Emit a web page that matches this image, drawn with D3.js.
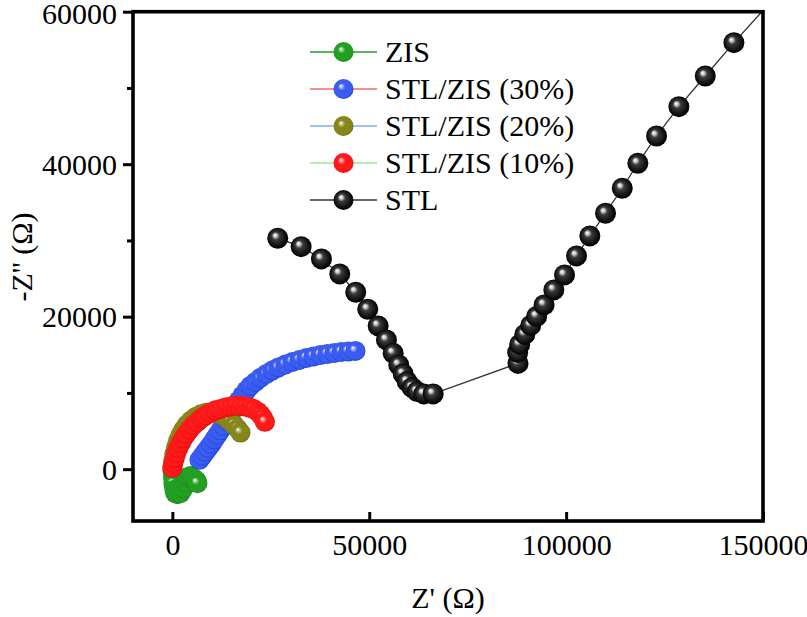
<!DOCTYPE html>
<html>
<head>
<meta charset="utf-8">
<script src="https://cdn.jsdelivr.net/npm/d3@7"></script>
<style>
  html, body { margin: 0; padding: 0; background: #fff; }
  svg { display: block; }
  text { font-family: "Liberation Serif", "Times New Roman", serif; fill: #000; }
</style>
</head>
<body>
<svg id="chart" width="807" height="617"></svg>
<script>
// ---------- data ----------
const seriesNames = ["ZIS", "STL/ZIS (30%)", "STL/ZIS (20%)", "STL/ZIS (10%)", "STL"];
const markerColors = ["#22a022", "#3a5cf0", "#86861a", "#ff1a1a", "#151515"];
const lineColors = ["#22a022", "#ec6e6e", "#84aaf0", "#90ec90", "#333333"];

const xTicks = [0, 50000, 100000, 150000];
const yTicks = [0, 20000, 40000, 60000];
const yMinorTicks = [10000, 30000, 50000];

const zisX = [0, 127, 254, 508, 762, 1270, 2032, 2795, 3303, 3811, 4573, 5335, 6098, 6352];
const zisY = [-130, -1000, -1900, -2700, -3150, -3280, -3150, -2520, -1700, -1050, -900, -1180, -1500, -1840];

const stl30X = [6860, 7622, 8384, 9146, 9909, 10671, 11433, 12195, 12957, 13720, 14482, 15244, 16006, 16896, 17785, 18801, 19817, 21088, 22358, 23883, 25407, 26932, 28710, 30489, 32267, 34046, 35824, 37602, 39381, 41159, 42938, 44716, 46495];
const stl30Y = [1219, 1744, 2268, 2793, 3317, 3907, 4498, 5087, 5677, 6333, 6989, 7644, 8300, 9021, 9677, 10332, 10922, 11447, 11971, 12496, 12955, 13348, 13741, 14069, 14332, 14594, 14790, 14987, 15118, 15249, 15380, 15446, 15512];

const stl20X = [0, 200, 500, 900, 1400, 2000, 2750, 3650, 4700, 5900, 7200, 8500, 9800, 11100, 12400, 13600, 14700, 15700, 16600, 17300];
const stl20Y = [302, 1150, 2000, 2850, 3680, 4450, 5170, 5820, 6380, 6850, 7200, 7400, 7450, 7350, 7100, 6750, 6300, 5800, 5300, 4800];

const stl10X = [0, 254, 635, 1016, 1524, 2160, 2795, 3557, 4446, 5335, 6352, 7368, 8511, 9655, 10925, 12195, 13466, 14736, 16006, 17277, 18420, 19563, 20580, 21596, 22358, 22994, 23502];
const stl10Y = [170, 826, 1482, 2137, 2793, 3449, 4039, 4629, 5219, 5743, 6202, 6661, 7054, 7382, 7710, 7906, 8103, 8234, 8300, 8300, 8234, 8103, 7906, 7578, 7185, 6726, 6202];

const stlX = [26754, 32699, 37856, 42506, 46571, 49620, 52262, 54371, 56074, 57496, 58614, 59630, 60901, 62171, 63848, 66236,
  87783, 87700, 88200, 89500, 91000, 92500, 94400, 96877, 99595, 102644, 106023, 110012, 114255, 118219, 122970, 128636, 135343, 142610, 157000];
const stlY = [30289, 29187, 27574, 25608, 23208, 20979, 18790, 16954, 15210, 13676, 12496, 11486, 10699, 10175, 9873, 9873,
  13872, 15312, 16361, 17672, 18852, 20032, 21543, 23510, 25476, 27968, 30590, 33567, 36845, 40123, 43703, 47544, 51570, 55937, 64160];

const seriesX = [zisX, stl30X, stl20X, stl10X, stlX];
const seriesY = [zisY, stl30Y, stl20Y, stl10Y, stlY];

// ---------- layout ----------
const svg = d3.select("#chart");
const L = 133, R = 763, T = 11.7, B = 521;
const x = d3.scaleLinear().domain([-10000, 150000]).range([L, R]);
const y = d3.scaleLinear().domain([-6800, 60000]).range([B, T]);

// gradients
const defs = svg.append("defs");
function shade(c, k) { const h = d3.hsl(c); h.l = Math.max(0, Math.min(1, h.l * k)); return h.toString(); }
markerColors.forEach((c, i) => {
  const g = defs.append("radialGradient").attr("id", "sph" + i)
    .attr("cx", "50%").attr("cy", "50%").attr("r", "55%")
    .attr("fx", "36%").attr("fy", "34%");
  const isBlack = i === 4;
  g.append("stop").attr("offset", "0%").attr("stop-color", "#ffffff");
  g.append("stop").attr("offset", "14%").attr("stop-color", isBlack ? "#d0d0d0" : d3.interpolateRgb(c, "#fff")(0.55));
  g.append("stop").attr("offset", "34%").attr("stop-color", isBlack ? "#3a3a3a" : c);
  g.append("stop").attr("offset", "80%").attr("stop-color", isBlack ? "#0a0a0a" : c);
  g.append("stop").attr("offset", "100%").attr("stop-color", isBlack ? "#000" : shade(c, 0.75));
});
defs.append("clipPath").attr("id", "plotClip").append("rect")
  .attr("x", L).attr("y", T).attr("width", R - L).attr("height", B - T);

// data
const plot = svg.append("g").attr("clip-path", "url(#plotClip)");
seriesNames.forEach((name, i) => {
  const pts = seriesX[i].map((v, j) => [v, seriesY[i][j]]);
  plot.append("path").datum(pts)
    .attr("fill", "none").attr("stroke", lineColors[i]).attr("stroke-width", i === 4 ? 1.3 : 1)
    .attr("d", d3.line().x(d => x(d[0])).y(d => y(d[1])));
  plot.append("g").selectAll("circle").data(pts).join("circle")
    .attr("cx", d => x(d[0])).attr("cy", d => y(d[1]))
    .attr("r", i === 4 ? 10.5 : 10)
    .attr("fill", `url(#sph${i})`);
});

// axes
const yAxis = svg.append("g").attr("transform", `translate(${L},0)`)
  .call(d3.axisLeft(y).tickValues(yTicks).tickFormat(d3.format("d")).tickSize(10).tickPadding(6));
yAxis.select(".domain").remove();
yAxis.selectAll("line").attr("stroke", "#000").attr("stroke-width", 3);
yAxis.selectAll("text").attr("font-size", 30).attr("font-family", "Liberation Serif")
  .attr("dy", d => d === 60000 ? "0.40em" : "0.34em");

const yMinorAxis = svg.append("g").attr("transform", `translate(${L},0)`)
  .call(d3.axisLeft(y).tickValues(yMinorTicks).tickFormat("").tickSize(6));
yMinorAxis.select(".domain").remove();
yMinorAxis.selectAll("line").attr("stroke", "#000").attr("stroke-width", 3);

const xAxis = svg.append("g").attr("transform", `translate(0,${B})`)
  .call(d3.axisBottom(x).tickValues(xTicks).tickFormat(d3.format("d")).tickSizeInner(-9).tickSizeOuter(0).tickPadding(12));
xAxis.select(".domain").remove();
xAxis.selectAll("line").attr("stroke", "#000").attr("stroke-width", 3);
xAxis.selectAll("text").attr("font-size", 30).attr("font-family", "Liberation Serif").attr("dy", "0.72em");

// frame
svg.append("rect").attr("x", L).attr("y", T).attr("width", R - L).attr("height", B - T)
  .attr("fill", "none").attr("stroke", "#000").attr("stroke-width", 3.6);

// axis titles
svg.append("text").attr("x", 448).attr("y", 608).attr("text-anchor", "middle")
  .attr("font-size", 30).text("Z' (Ω)");
svg.append("text").attr("transform", "translate(32,257) rotate(-90)").attr("text-anchor", "middle")
  .attr("font-size", 30).text("-Z'' (Ω)");

// legend
const legY0 = 52, legDy = 37;
const leg = svg.append("g");
seriesNames.forEach((name, i) => {
  const yy = legY0 + i * legDy;
  leg.append("line").attr("x1", 310).attr("x2", 377).attr("y1", yy).attr("y2", yy)
    .attr("stroke", lineColors[i]).attr("stroke-width", 1.5);
  leg.append("circle").attr("cx", 343.5).attr("cy", yy).attr("r", 10).attr("fill", `url(#sph${i})`);
  leg.append("text").attr("x", 385).attr("y", yy).attr("dy", "0.34em").attr("font-size", 30).text(name);
});
</script>
</body>
</html>
